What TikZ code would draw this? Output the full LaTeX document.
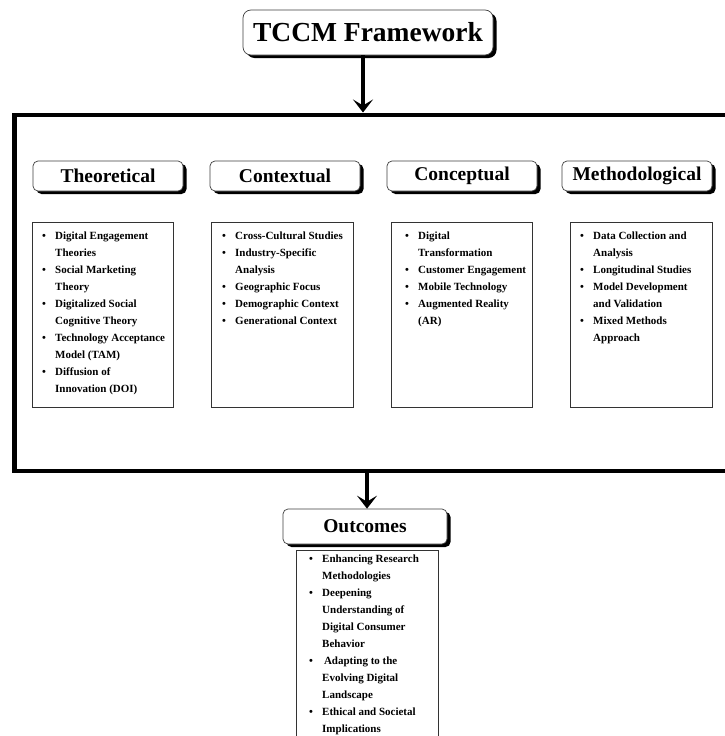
\documentclass[tikz,border=0pt]{standalone}
\usepackage{fontspec}
\setmainfont{Liberation Serif}
\usetikzlibrary{arrows.meta,shadows,calc}
\newcommand{\bi}{\makebox[13pt][l]{\textbullet}}
\newcommand{\ci}{\hspace*{13pt}}
\newcommand{\lst}[1]{\fontsize{11}{17}\selectfont\bfseries\begin{tabular}{@{}l@{}}#1\end{tabular}}
\begin{document}
\begin{tikzpicture}[x=1pt,y=-1pt,
  hdr/.style={draw=black!75, line width=0.7pt, rounded corners=5pt, fill=white,
    minimum width=150pt, minimum height=30pt, inner sep=0pt,
    font=\fontsize{19.5}{20}\selectfont\bfseries,
    drop shadow={shadow xshift=3.5pt, shadow yshift=-3pt, fill=black, opacity=1}},
  cbox/.style={draw=black!80, line width=0.9pt, fill=white, anchor=north west, inner sep=0pt,
    drop shadow={shadow xshift=1pt, shadow yshift=-1pt, fill=black!60, opacity=1}},
  lnode/.style={anchor=north west, inner sep=0pt},
  bigarrow/.style={line width=4.5pt, -{Stealth[length=13pt,width=20pt,inset=6pt]}}
]
\clip (0,0) rectangle (725,736);
\fill[white] (0,0) rectangle (725,736);

% title
\node[hdr, minimum width=250pt, minimum height=45pt, rounded corners=8pt,
      font=\fontsize{27.5}{28}\selectfont\bfseries] (tccm) at (368,32.5) {TCCM Framework};

% frame
\node[draw=black, line width=4.5pt, anchor=north west, minimum width=740pt, minimum height=356pt, inner sep=0pt] (frame) at (12,112.5) {};

\draw[bigarrow] ($(tccm.south)+(-5,0)$) coordinate (a1) -- (a1 |- frame.north);

% headers
\node[hdr] (th) at (108,176) {Theoretical};
\node[hdr] (cx) at (285,176) {Contextual};
\node[hdr] (cp) at (462,176) {Conceptual};
\node[hdr] (me) at (637,176) {Methodological};

% content boxes
\node[cbox, minimum width=141pt, minimum height=185pt] (thb) at (32,222) {};
\node[cbox, minimum width=142pt, minimum height=185pt] (cxb) at (211,222) {};
\node[cbox, minimum width=141pt, minimum height=185pt] (cpb) at (391,222) {};
\node[cbox, minimum width=142pt, minimum height=185pt] (meb) at (570,222) {};

\node[lnode] (thl) at (42,227.7) {\lst{%
\bi Digital Engagement\\ \ci Theories\\
\bi Social Marketing\\ \ci Theory\\
\bi Digitalized Social\\ \ci Cognitive Theory\\
\bi Technology Acceptance\\ \ci Model (TAM)\\
\bi Diffusion of\\ \ci Innovation (DOI)}};

\node[lnode] (cxl) at (222,227.7) {\lst{%
\bi Cross-Cultural Studies\\
\bi Industry-Specific\\ \ci Analysis\\
\bi Geographic Focus\\
\bi Demographic Context\\
\bi Generational Context}};

\node[lnode] (cpl) at (405,227.7) {\lst{%
\bi Digital\\ \ci Transformation\\
\bi Customer Engagement\\
\bi Mobile Technology\\
\bi Augmented Reality\\ \ci (AR)}};

\node[lnode] (mel) at (580,227.7) {\lst{%
\bi Data Collection and\\ \ci Analysis\\
\bi Longitudinal Studies\\
\bi Model Development\\ \ci and Validation\\
\bi Mixed Methods\\ \ci Approach}};

% outcomes
\node[hdr, minimum width=164pt, minimum height=35pt] (out) at (365,526.5) {Outcomes};
\draw[bigarrow] (out.north |- frame.south) ++(2,0) coordinate (a2) -- (a2 |- out.north);

\node[cbox, minimum width=142pt, minimum height=200pt] (outb) at (296,550) {};
\node[lnode] (outl) at (309,550.2) {\lst{%
\bi Enhancing Research\\ \ci Methodologies\\
\bi Deepening\\ \ci Understanding of\\ \ci Digital Consumer\\ \ci Behavior\\
\bi\,Adapting to the\\ \ci Evolving Digital\\ \ci Landscape\\
\bi Ethical and Societal\\ \ci Implications}};
\end{tikzpicture}
\end{document}
